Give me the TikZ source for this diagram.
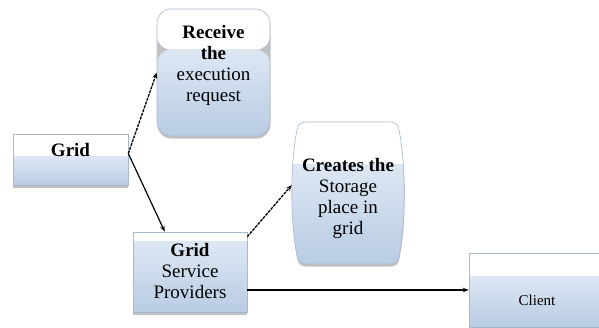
\documentclass[tikz,border=0pt]{standalone}
\usepackage{fontspec}
\setmainfont{Liberation Serif}
\usetikzlibrary{calc,shadows,arrows.meta}

\definecolor{bluetop}{HTML}{DDE7F3}
\definecolor{bluebot}{HTML}{B8CCE4}
\definecolor{edgecol}{HTML}{A9B9CC}

\newcommand\boxsplit{0.4}

\tikzset{
  split/.code={\renewcommand\boxsplit{#1}},
  twotone/.style={
    draw=edgecol, line width=0.6pt,
    drop shadow={shadow xshift=0.4pt, shadow yshift=-2.6pt, opacity=0.35, fill=black!70},
    path picture={
      \fill[white] (path picture bounding box.north west) rectangle
        ($(path picture bounding box.north east)!\boxsplit!(path picture bounding box.south east)$);
      \shade[top color=bluetop, bottom color=bluebot]
        ($(path picture bounding box.north west)!\boxsplit!(path picture bounding box.south west)$)
        rectangle (path picture bounding box.south east);
    }},
  box/.style={twotone, inner sep=0pt},
  txt/.style={align=center, inner sep=0pt, font=\fontsize{19pt}{21pt}\selectfont},
  conn/.style={line width=1.2pt, -{Stealth[length=6pt,width=4.5pt]}},
  dashconn/.style={conn, line width=1.3pt, dash pattern=on 3pt off 1pt},
}

\begin{document}
\begin{tikzpicture}[x=1pt, y=-1pt]
  \useasboundingbox (0,0) rectangle (599,328);

  % rectangular and rounded boxes
  \node[box, split=0.45, minimum width=115pt, minimum height=51pt] (g) at (70.5,159.5) {};
  \node[box, split=0.32, rounded corners=14pt, minimum width=113pt, minimum height=127pt] (r) at (213.5,72.5) {};
  \node[box, split=0.12, minimum width=114pt, minimum height=80pt] (gsp) at (190,272) {};
  \node[box, split=0.32, minimum width=136pt, minimum height=74pt] (cl) at (537,290) {};

  % barrel-shaped box for the storage step
  \path[twotone, split=0.3]
    (306,122) -- (390,122)
    .. controls (396,122) and (398,125) .. (399,130)
    .. controls (406,165) and (406,221) .. (399,256)
    .. controls (398,261) and (396,264) .. (390,264)
    -- (306,264)
    .. controls (300,264) and (298,261) .. (297,256)
    .. controls (290,221) and (290,165) .. (297,130)
    .. controls (298,125) and (300,122) .. (306,122) -- cycle;
  \node[minimum width=112pt, minimum height=142pt, inner sep=0pt] (cr) at (348,193) {};

  % texts
  \node[txt] (g-t) at (70.5,150) {\textbf{Grid}};
  \node[txt] (r-t) at (213.5,65) {\textbf{Receive}\\\textbf{the}\\execution\\request};
  \node[txt] (gsp-t) at (190,271) {\textbf{Grid}\\Service\\Providers};
  \node[txt] (cr-t) at (348,198) {\textbf{Creates the}\\Storage\\place in\\grid};
  \node[txt, font=\fontsize{15pt}{18pt}\selectfont] (cl-t) at (537,300) {Client};

  % connectors
  \coordinate (gout) at ($(g.east)+(0,-6)$);
  \draw[dashconn] (gout) -- (r.west);
  \draw[conn] (gout) -- ($(gsp.north west)!0.28!(gsp.north east)$);
  \draw[dashconn] ($(gsp.north east)+(0,5)$) -- ($(cr.west)+(0,-8)$);
  \draw[conn, line width=1.7pt] (gsp.east |- cl.west) -- (cl.west);
\end{tikzpicture}
\end{document}
